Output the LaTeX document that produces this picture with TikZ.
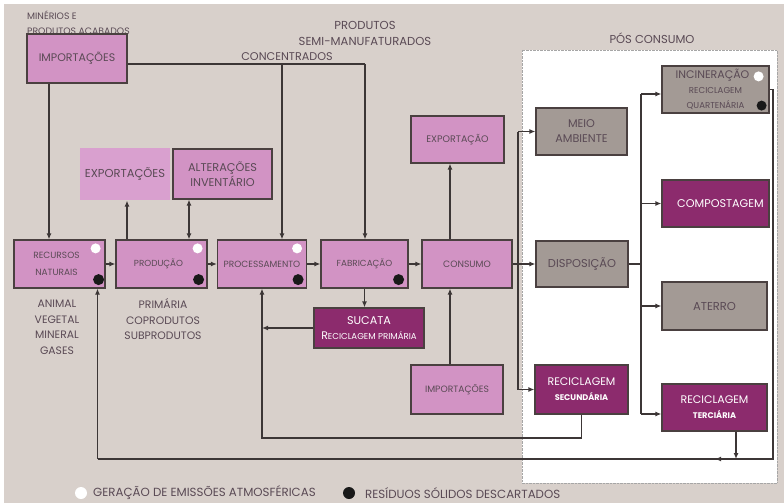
\documentclass[tikz,border=0pt]{standalone}
\usepackage{fontspec}
\setmainfont{Poppins}
\usetikzlibrary{arrows.meta,calc}

\definecolor{bg}{HTML}{D8D0CB}
\definecolor{pinkbox}{HTML}{D293C4}
\definecolor{palepink}{HTML}{D9A0CF}
\definecolor{plum}{HTML}{8C2B6D}
\definecolor{greybox}{HTML}{A39A95}
\definecolor{edge}{HTML}{4A4040}
\definecolor{ink}{HTML}{5A4A55}
\definecolor{wirec}{HTML}{3C3636}

\newcommand{\txtsize}[2]{\fontsize{#1}{#2}\selectfont}

\begin{document}
\begin{tikzpicture}[x=1pt,y=-1pt,
  box/.style={draw=edge, line width=1.2pt, inner sep=0pt, align=center, text=ink},
  pinkb/.style={box, fill=pinkbox},
  plumb/.style={box, fill=plum, text=white},
  greyb/.style={box, fill=greybox},
  wire/.style={draw=wirec, line width=1.3pt},
  arr/.style={wire, -{Latex[length=6pt,width=5pt]}},
  arrboth/.style={wire, {Latex[length=6pt,width=5pt]}-{Latex[length=6pt,width=5pt]}},
  lbl/.style={text=ink, inner sep=0pt, align=center},
  wdot/.style={fill=white},
  bdot/.style={fill=black!90}]

\useasboundingbox (0,0) rectangle (784,503);
\fill[white] (0,0) rectangle (784,503);
\fill[bg] (4,4) rectangle (784,503);

% post-consumption area
\draw[densely dotted, draw=gray!70, fill=white] (522,50) rectangle (777,483);
\node[lbl, font=\txtsize{11.5}{14}] (poslbl) at (652,38) {PÓS CONSUMO};

% free labels
\node[lbl, anchor=west, align=left, font=\txtsize{9.3}{15}] (minlbl) at (27,22.5) {MINÉRIOS E\\PRODUTOS ACABADOS};
\node[lbl, font=\txtsize{11.2}{14}] (conclbl) at (287,57) {CONCENTRADOS};
\node[lbl, font=\txtsize{11.6}{16}] (semilbl) at (365,33) {PRODUTOS\\SEMI-MANUFATURADOS};
\node[lbl, font=\txtsize{10.8}{15.5}] (reclbl) at (57,327.5) {ANIMAL\\VEGETAL\\MINERAL\\GASES};
\node[lbl, font=\txtsize{10.8}{15.5}] (prodlbl) at (163,319.5) {PRIMÁRIA\\COPRODUTOS\\SUBPRODUTOS};

% boxes
\node[pinkb, minimum width=100, minimum height=49, font=\txtsize{11}{14}] (impA) at (77,58.5) {IMPORTAÇÕES};

\node[pinkb, minimum width=91, minimum height=48, font=\txtsize{9}{17}] (rec) at (59.5,264) {\hspace*{-6pt}RECURSOS\\\hspace*{-6pt}NATURAIS};
\node[pinkb, minimum width=91, minimum height=48, font=\txtsize{8.8}{12}] (prod) at (161.5,264) {\hspace*{-6pt}PRODUÇÃO};
\node[pinkb, minimum width=89, minimum height=48, font=\txtsize{9}{12}] (proc) at (262,264) {PROCESSAMENTO};
\node[pinkb, minimum width=87, minimum height=48, font=\txtsize{8.8}{12}] (fab) at (364.5,264) {FABRICAÇÃO};
\node[pinkb, minimum width=90, minimum height=48, font=\txtsize{9.2}{12}] (cons) at (467,264) {CONSUMO};

\node[box, draw=none, fill=palepink, minimum width=90, minimum height=52, font=\txtsize{11.5}{14}] (expA) at (125,174) {EXPORTAÇÕES};
\node[pinkb, minimum width=99, minimum height=50, font=\txtsize{11.3}{15}] (alt) at (222.5,174) {ALTERAÇÕES\\INVENTÁRIO};
\node[pinkb, minimum width=93, minimum height=47, font=\txtsize{9.5}{12}] (expB) at (457.5,139.5) {EXPORTAÇÃO};
\node[pinkb, minimum width=92, minimum height=49, font=\txtsize{9.2}{12}] (impB) at (457,389.5) {IMPORTAÇÕES};
\node[plumb, minimum width=110, minimum height=40, font=\txtsize{11.2}{15}] (suc) at (369,328)
  {SUCATA\\{\txtsize{11}{15}R\txtsize{8.6}{15}ECICLAGEM PRIMÁRIA}};

\node[greyb, minimum width=91, minimum height=47, font=\txtsize{11.2}{15}] (meio) at (581.5,131.5) {MEIO\\AMBIENTE};
\node[greyb, minimum width=92, minimum height=46, font=\txtsize{11.4}{15}] (disp) at (582,264) {DISPOSIÇÃO};
\node[plumb, minimum width=93, minimum height=49, font=\txtsize{11}{15}] (rsec) at (581.5,389.5)
  {RECICLAGEM\\{\txtsize{8.2}{15}\bfseries SECUNDÁRIA}};

\node[greyb, minimum width=107, minimum height=47, font=\txtsize{11}{15}] (inc) at (715.5,89.5)
  {\hspace*{-6pt}INCINERAÇÃO\\{\txtsize{8.6}{15}RECICLAGEM}\\{\txtsize{8.6}{15}QUARTENÁRIA}};
\node[plumb, minimum width=107, minimum height=47, font=\txtsize{11.2}{15}] (comp) at (715.5,203.5) {\hspace*{10pt}COMPOSTAGEM};
\node[greyb, minimum width=105, minimum height=48, font=\txtsize{11.5}{15}] (ater) at (714.5,306) {ATERRO};
\node[plumb, minimum width=105, minimum height=47, font=\txtsize{11}{15}] (rter) at (714.5,407.5)
  {RECICLAGEM\\{\txtsize{8.2}{15}\bfseries TERCIÁRIA}};

% emission / waste markers
\fill[wdot] ($(rec.north east)+(-10,9)$) circle[radius=5];
\fill[bdot] ($(rec.south east)+(-7,-9)$) circle[radius=5.5];
\fill[wdot] ($(prod.north east)+(-10,9)$) circle[radius=5];
\fill[bdot] ($(prod.south east)+(-9,-9)$) circle[radius=5.5];
\fill[wdot] ($(proc.north east)+(-10,9)$) circle[radius=5];
\fill[bdot] ($(proc.south east)+(-9,-9)$) circle[radius=5.5];
\fill[bdot] ($(fab.south east)+(-10,-9)$) circle[radius=5.5];
\fill[wdot] ($(inc.north east)+(-11,11)$) circle[radius=5];
\fill[bdot] ($(inc.south east)+(-8,-8)$) circle[radius=5];

% imports feeding the chain
\coordinate (cTop) at (365,64);
\coordinate (cMid) at (282,64);
\draw[wire] (impA.east |- cTop) -- (cTop);
\draw[arr] (cTop) -- (cTop |- fab.north);
\draw[arr] (cMid) -- (cMid |- proc.north);
\draw[arr] ([xshift=-28pt]impA.south) -- ([xshift=-28pt]impA.south |- rec.north);

% main chain
\draw[arr] (rec) -- (prod);
\draw[arr] (prod) -- (proc);
\draw[arr] (proc) -- (fab);
\draw[arr] (fab) -- (cons);

\draw[arr] ([xshift=-34.5pt]prod.north) -- ([xshift=-34.5pt]prod.north |- expA.south);
\draw[arrboth] ([xshift=27.5pt]prod.north) -- ([xshift=27.5pt]prod.north |- alt.south);

\draw[arr] ([xshift=-17pt]cons.north) -- ([xshift=-17pt]cons.north |- expB.south);
\draw[arr] ([xshift=-7pt]impB.north) -- ([xshift=-7pt]impB.north |- cons.south);

% scrap and recycling loops
\draw[arr] (fab.south) -- (fab.south |- suc.north);
\draw[arr] (suc.west) -- (suc.west -| proc.south);
\coordinate (loopA) at (262,438);
\draw[arr] (rsec.south) |- (loopA) -- (proc.south);

\coordinate (loopR) at (773,459);
\coordinate (loopL) at (97.5,459);
\coordinate (loopTip) at (715,459);
\draw[wire] (inc.east) -| (loopR) -- (loopL);
\draw[arr] (loopR) -- (loopTip);
\draw[arr] (loopL) -- (loopL |- rec.south);
\draw[arr] ([xshift=21.5pt]rter.south) -- ([xshift=21.5pt]rter.south |- loopR);

% post-consumption branches
\coordinate (jA) at (518,264);
\draw[wire] (cons.east) -- (jA);
\draw[wire] (jA |- meio.west) -- (jA |- rsec.west);
\draw[arr] (jA |- meio.west) -- (meio.west);
\draw[arr] (jA) -- (disp.west);
\draw[arr] (jA |- rsec.west) -- (rsec.west);

\coordinate (jB) at (641,264);
\coordinate (jBtop) at (641,94);
\coordinate (jBbot) at (641,414);
\draw[wire] (disp.east) -- (jB);
\draw[wire] (jBtop) -- (jBbot);
\draw[arr] (jBtop) -- (jBtop -| inc.west);
\draw[arr] (jB |- comp.west) -- (comp.west);
\draw[arr] (jB |- ater.west) -- (ater.west);
\draw[arr] (jBbot) -- (jBbot -| rter.west);

% legend
\fill[wdot] (81,493) circle[radius=6];
\node[lbl, anchor=west, font=\txtsize{11.8}{13}] (legA) at (93,493) {GERAÇÃO DE EMISSÕES ATMOSFÉRICAS};
\fill[bdot] (349,493) circle[radius=6];
\node[lbl, anchor=west, font=\txtsize{11.8}{13}] (legB) at (365,493) {RESÍDUOS SÓLIDOS DESCARTADOS};
\end{tikzpicture}
\end{document}
